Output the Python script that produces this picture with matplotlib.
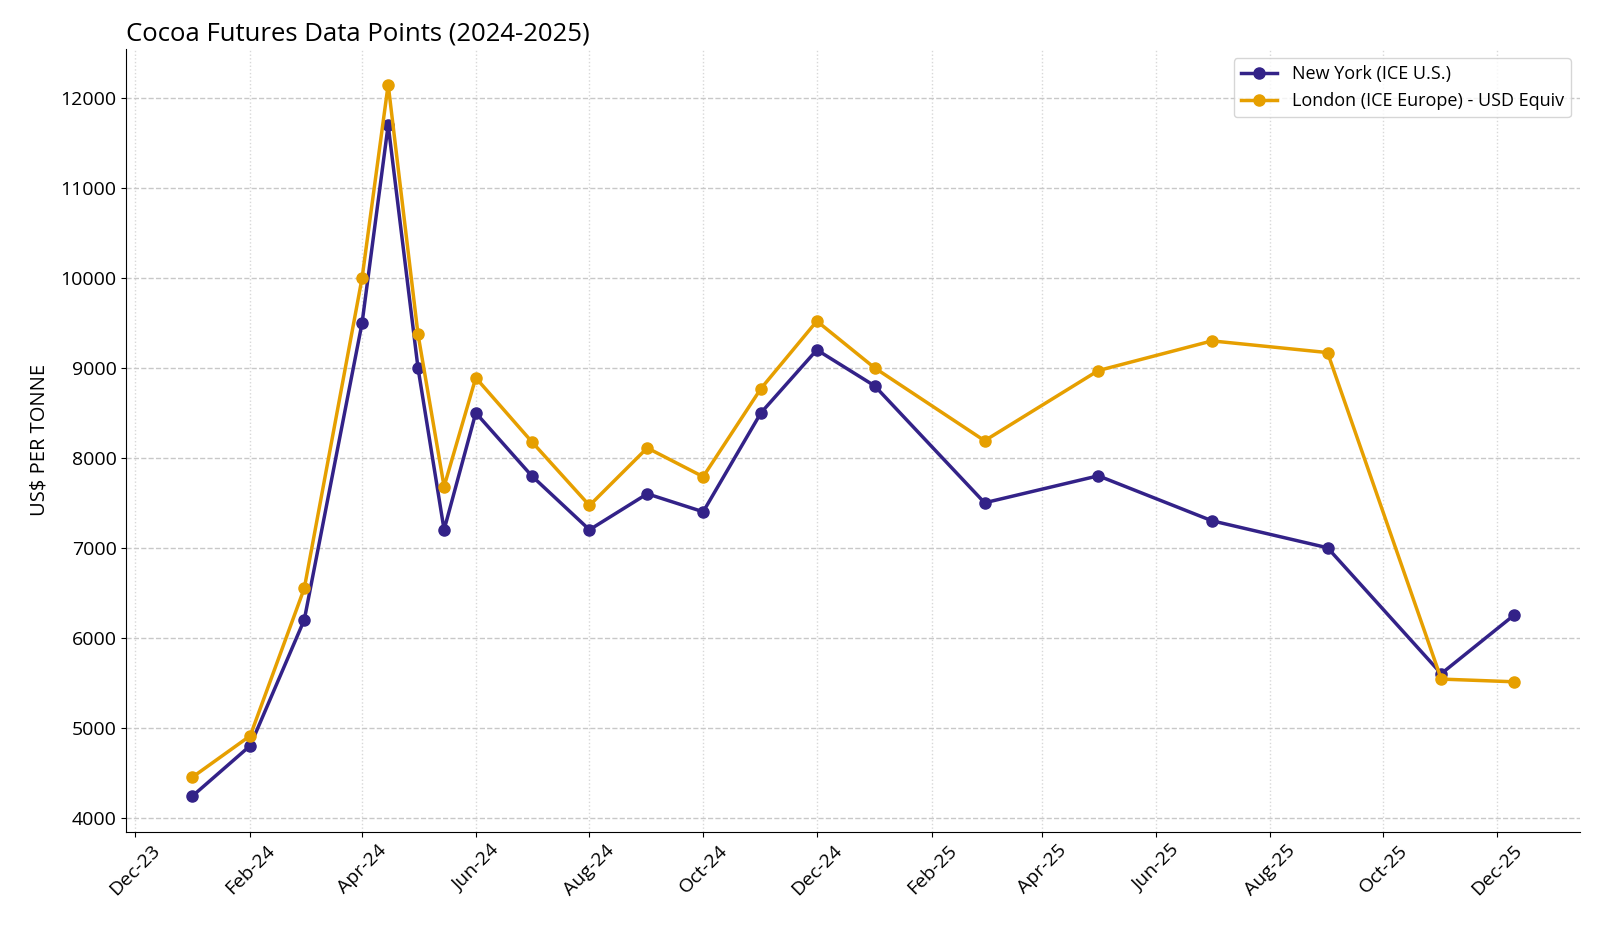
import pandas as pd
import matplotlib.pyplot as plt
import matplotlib.dates as mdates

plt.rcParams['font.family'] = ['Open Sans', 'DejaVu Sans']

# datas dos pontos
dates = pd.to_datetime([
    "2024-01-01", "2024-02-01", "2024-03-01", "2024-04-01", "2024-04-15",
    "2024-05-01", "2024-05-15", "2024-06-01", "2024-07-01", "2024-08-01",
    "2024-09-01", "2024-10-01", "2024-11-01", "2024-12-01", "2025-01-01",
    "2025-03-01", "2025-05-01", "2025-07-01", "2025-09-01", "2025-11-01",
    "2025-12-10",
])

new_york = [4240, 4800, 6200, 9500, 11700, 9000, 7200, 8500, 7800, 7200,
            7600, 7400, 8500, 9200, 8800, 7500, 7800, 7300, 7000, 5600, 6250]

london = [4450, 4910, 6550, 10000, 12150, 9375, 7680, 8890, 8180, 7470,
          8110, 7790, 8770, 9520, 9000, 8190, 8970, 9300, 9170, 5540, 5510]

fig, ax = plt.subplots(figsize=(16, 9.33), dpi=100)
fig.subplots_adjust(left=0.079, right=0.9875, top=0.9475, bottom=0.1087)

ax.plot(dates, new_york, marker='o', color='#332288', linewidth=2.5,
        markersize=8, label='New York (ICE U.S.)')
ax.plot(dates, london, marker='o', color='#E69F00', linewidth=2.5,
        markersize=8, label='London (ICE Europe) - USD Equiv')

ax.set_title("Cocoa Futures Data Points (2024-2025)", fontsize=18.5, loc='left')
ax.set_ylabel("US$ PER TONNE", fontsize=14.5, labelpad=8)

ax.xaxis.set_major_locator(mdates.MonthLocator(bymonth=[2, 4, 6, 8, 10, 12]))
ax.xaxis.set_major_formatter(mdates.DateFormatter('%b-%y'))
plt.setp(ax.get_xticklabels(), rotation=45)
ax.tick_params(axis='both', labelsize=14)

ax.grid(axis='y', linestyle='--', color='#c8c8c8', linewidth=1)
ax.grid(axis='x', linestyle=':', color='#d8d8d8', linewidth=1)
ax.spines['top'].set_visible(False)
ax.spines['right'].set_visible(False)

ax.legend(loc='upper right', fontsize=13)

plt.savefig('out.png')
